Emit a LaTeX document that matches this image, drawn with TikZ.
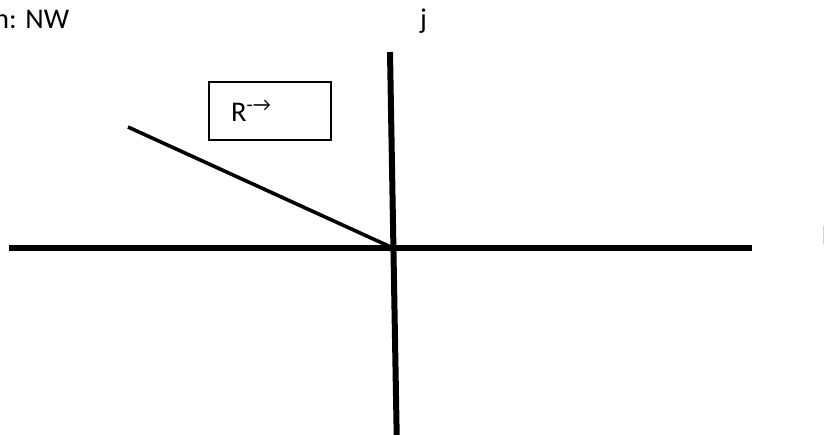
\documentclass[tikz,border=0pt]{standalone}
\usepackage{fontspec}
\setmainfont{Carlito}
\begin{document}
\begin{tikzpicture}[x=1pt, y=-1pt, font=\fontsize{28.5}{34}\selectfont,
      axis/.style={line width=6pt},
      ray/.style={line width=3.6pt},
      lbl/.style={inner sep=0pt, anchor=base west}]
    \useasboundingbox (0,0) rectangle (824,434);
    \coordinate (west) at (9,248);
    \coordinate (east) at (752,248);
    \coordinate (top) at (390,52);
    \coordinate (bottom) at (396.7,436);
    \coordinate (o) at (393,248);
    \coordinate (tail) at (128,127);
    \node[lbl] (title) at (-6,28) {n: NW};
    \node[lbl] (jlab) at (420,28) {j};
    \node[lbl] (ilab) at (821.5,244) {I};
    \node[draw, line width=1.4pt, minimum width=122pt, minimum height=58pt, inner sep=0pt] (box) at (270,111) {};
    \node[lbl] (rlab) at (231,121) {R\textsuperscript{-→}};
    \draw[axis] (west) -- (east);
    \draw[axis] (top) -- (bottom);
    \draw[ray] (tail) -- (o);
\end{tikzpicture}
\end{document}
